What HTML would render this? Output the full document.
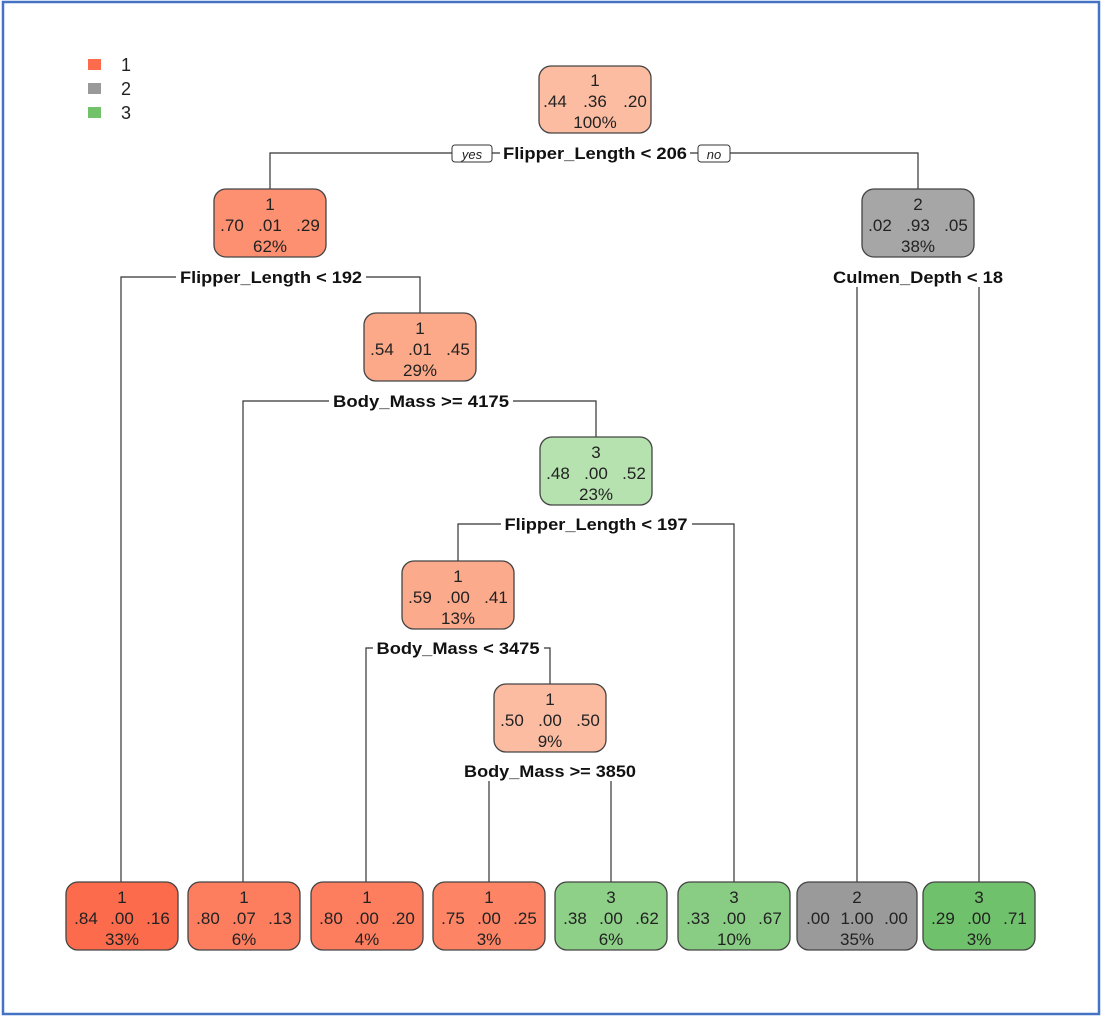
<!DOCTYPE html>
<html><head><meta charset="utf-8"><style>
html,body{margin:0;padding:0;background:#fff;}
svg{display:block;}
text{font-family:"Liberation Sans",Arial,sans-serif;}
.n{font-size:17px;fill:#222;text-anchor:middle;}
.s{font-size:17px;font-weight:bold;fill:#111;text-anchor:middle;}
.l{stroke:#333;stroke-width:1.2;fill:none;}
.b{stroke:#444;stroke-width:1.3;}
</style></head><body>
<svg width="1106" height="1020" viewBox="0 0 1106 1020" xmlns="http://www.w3.org/2000/svg">
<rect x="0" y="0" width="1106" height="1020" fill="#fff"/>
<rect x="3" y="2" width="1096" height="1012" fill="none" stroke="#4472c4" stroke-width="2.5"/>
<rect x="88" y="59" width="13" height="11" fill="#fd6b4d"/>
<rect x="88" y="83" width="13" height="11" fill="#999"/>
<rect x="88" y="107" width="13" height="11" fill="#72c26c"/>
<text x="121" y="71" style="font-size:18px;fill:#222">1</text>
<text x="121" y="95" style="font-size:18px;fill:#222">2</text>
<text x="121" y="119" style="font-size:18px;fill:#222">3</text>
<path class="l" d="M270 189V153H918V189"/>
<path class="l" d="M121 882V277H420V313"/>
<path class="l" d="M857 882V277M979 882V277M857 277H979"/>
<path class="l" d="M243 882V401H596V437"/>
<path class="l" d="M458 561V524H734V882"/>
<path class="l" d="M366 882V648H550V684"/>
<path class="l" d="M489 882V771H611V882"/>

<rect class="b" x="539" y="66" width="112" height="67" rx="12" fill="#fcbca1"/>
<text class="n" x="595" y="86">1</text><text class="n" x="555" y="107">.44</text><text class="n" x="595" y="107">.36</text><text class="n" x="635" y="107">.20</text><text class="n" x="595" y="128">100%</text>

<rect class="b" x="214" y="189" width="112" height="68" rx="12" fill="#fc9070"/>
<text class="n" x="270" y="210">1</text><text class="n" x="232" y="231">.70</text><text class="n" x="270" y="231">.01</text><text class="n" x="308" y="231">.29</text><text class="n" x="270" y="252">62%</text>

<rect class="b" x="862" y="189" width="112" height="68" rx="12" fill="#a6a6a6"/>
<text class="n" x="918" y="210">2</text><text class="n" x="880" y="231">.02</text><text class="n" x="918" y="231">.93</text><text class="n" x="956" y="231">.05</text><text class="n" x="918" y="252">38%</text>

<rect class="b" x="364" y="313" width="112" height="68" rx="12" fill="#fca98a"/>
<text class="n" x="420" y="334">1</text><text class="n" x="382" y="355">.54</text><text class="n" x="420" y="355">.01</text><text class="n" x="458" y="355">.45</text><text class="n" x="420" y="376">29%</text>

<rect class="b" x="540" y="437" width="112" height="68" rx="12" fill="#b6e2b0"/>
<text class="n" x="596" y="458">3</text><text class="n" x="558" y="479">.48</text><text class="n" x="596" y="479">.00</text><text class="n" x="634" y="479">.52</text><text class="n" x="596" y="500">23%</text>

<rect class="b" x="402" y="561" width="112" height="68" rx="12" fill="#fcaa8c"/>
<text class="n" x="458" y="582">1</text><text class="n" x="420" y="603">.59</text><text class="n" x="458" y="603">.00</text><text class="n" x="496" y="603">.41</text><text class="n" x="458" y="624">13%</text>

<rect class="b" x="494" y="684" width="112" height="68" rx="12" fill="#fcbca2"/>
<text class="n" x="550" y="705">1</text><text class="n" x="512" y="726">.50</text><text class="n" x="550" y="726">.00</text><text class="n" x="588" y="726">.50</text><text class="n" x="550" y="747">9%</text>

<rect class="b" x="66" y="882" width="112" height="68" rx="12" fill="#fd6b4d"/>
<text class="n" x="122" y="903">1</text><text class="n" x="86" y="924">.84</text><text class="n" x="122" y="924">.00</text><text class="n" x="158" y="924">.16</text><text class="n" x="122" y="945">33%</text>

<rect class="b" x="188" y="882" width="112" height="68" rx="12" fill="#fd7d5f"/>
<text class="n" x="244" y="903">1</text><text class="n" x="208" y="924">.80</text><text class="n" x="244" y="924">.07</text><text class="n" x="280" y="924">.13</text><text class="n" x="244" y="945">6%</text>

<rect class="b" x="311" y="882" width="112" height="68" rx="12" fill="#fd7d5f"/>
<text class="n" x="367" y="903">1</text><text class="n" x="331" y="924">.80</text><text class="n" x="367" y="924">.00</text><text class="n" x="403" y="924">.20</text><text class="n" x="367" y="945">4%</text>

<rect class="b" x="433" y="882" width="112" height="68" rx="12" fill="#fd8465"/>
<text class="n" x="489" y="903">1</text><text class="n" x="453" y="924">.75</text><text class="n" x="489" y="924">.00</text><text class="n" x="525" y="924">.25</text><text class="n" x="489" y="945">3%</text>

<rect class="b" x="555" y="882" width="112" height="68" rx="12" fill="#8fd089"/>
<text class="n" x="611" y="903">3</text><text class="n" x="575" y="924">.38</text><text class="n" x="611" y="924">.00</text><text class="n" x="647" y="924">.62</text><text class="n" x="611" y="945">6%</text>

<rect class="b" x="678" y="882" width="112" height="68" rx="12" fill="#89cd84"/>
<text class="n" x="734" y="903">3</text><text class="n" x="698" y="924">.33</text><text class="n" x="734" y="924">.00</text><text class="n" x="770" y="924">.67</text><text class="n" x="734" y="945">10%</text>

<rect class="b" x="797" y="882" width="120" height="68" rx="12" fill="#9a9a9a"/>
<text class="n" x="857" y="903">2</text><text class="n" x="818" y="924">.00</text><text class="n" x="857" y="924">1.00</text><text class="n" x="896" y="924">.00</text><text class="n" x="857" y="945">35%</text>

<rect class="b" x="923" y="882" width="112" height="68" rx="12" fill="#6fc16b"/>
<text class="n" x="979" y="903">3</text><text class="n" x="943" y="924">.29</text><text class="n" x="979" y="924">.00</text><text class="n" x="1015" y="924">.71</text><text class="n" x="979" y="945">3%</text>

<!-- split labels with white backgrounds -->
<rect x="500" y="143" width="190" height="20" fill="#fff"/>
<text class="s" x="595" y="159" textLength="184" lengthAdjust="spacingAndGlyphs">Flipper_Length &lt; 206</text>
<rect x="452" y="145" width="40" height="17" rx="3" fill="#fff" stroke="#333" stroke-width="1"/>
<text x="472" y="159" style="font-size:13px;font-style:italic;fill:#222;text-anchor:middle">yes</text>
<rect x="698" y="145" width="32" height="17" rx="3" fill="#fff" stroke="#333" stroke-width="1"/>
<text x="714" y="159" style="font-size:13px;font-style:italic;fill:#222;text-anchor:middle">no</text>

<rect x="176" y="267" width="190" height="20" fill="#fff"/>
<text class="s" x="271" y="283" textLength="182" lengthAdjust="spacingAndGlyphs">Flipper_Length &lt; 192</text>
<rect x="829" y="267" width="178" height="20" fill="#fff"/>
<text class="s" x="918" y="283" textLength="170" lengthAdjust="spacingAndGlyphs">Culmen_Depth &lt; 18</text>
<rect x="329" y="391" width="184" height="20" fill="#fff"/>
<text class="s" x="421" y="407" textLength="176" lengthAdjust="spacingAndGlyphs">Body_Mass &gt;= 4175</text>
<rect x="501" y="514" width="191" height="20" fill="#fff"/>
<text class="s" x="596" y="530" textLength="183" lengthAdjust="spacingAndGlyphs">Flipper_Length &lt; 197</text>
<rect x="373" y="638" width="171" height="20" fill="#fff"/>
<text class="s" x="458" y="654" textLength="163" lengthAdjust="spacingAndGlyphs">Body_Mass &lt; 3475</text>
<rect x="460" y="761" width="180" height="20" fill="#fff"/>
<text class="s" x="550" y="777" textLength="172" lengthAdjust="spacingAndGlyphs">Body_Mass &gt;= 3850</text>
</svg>
</body></html>
